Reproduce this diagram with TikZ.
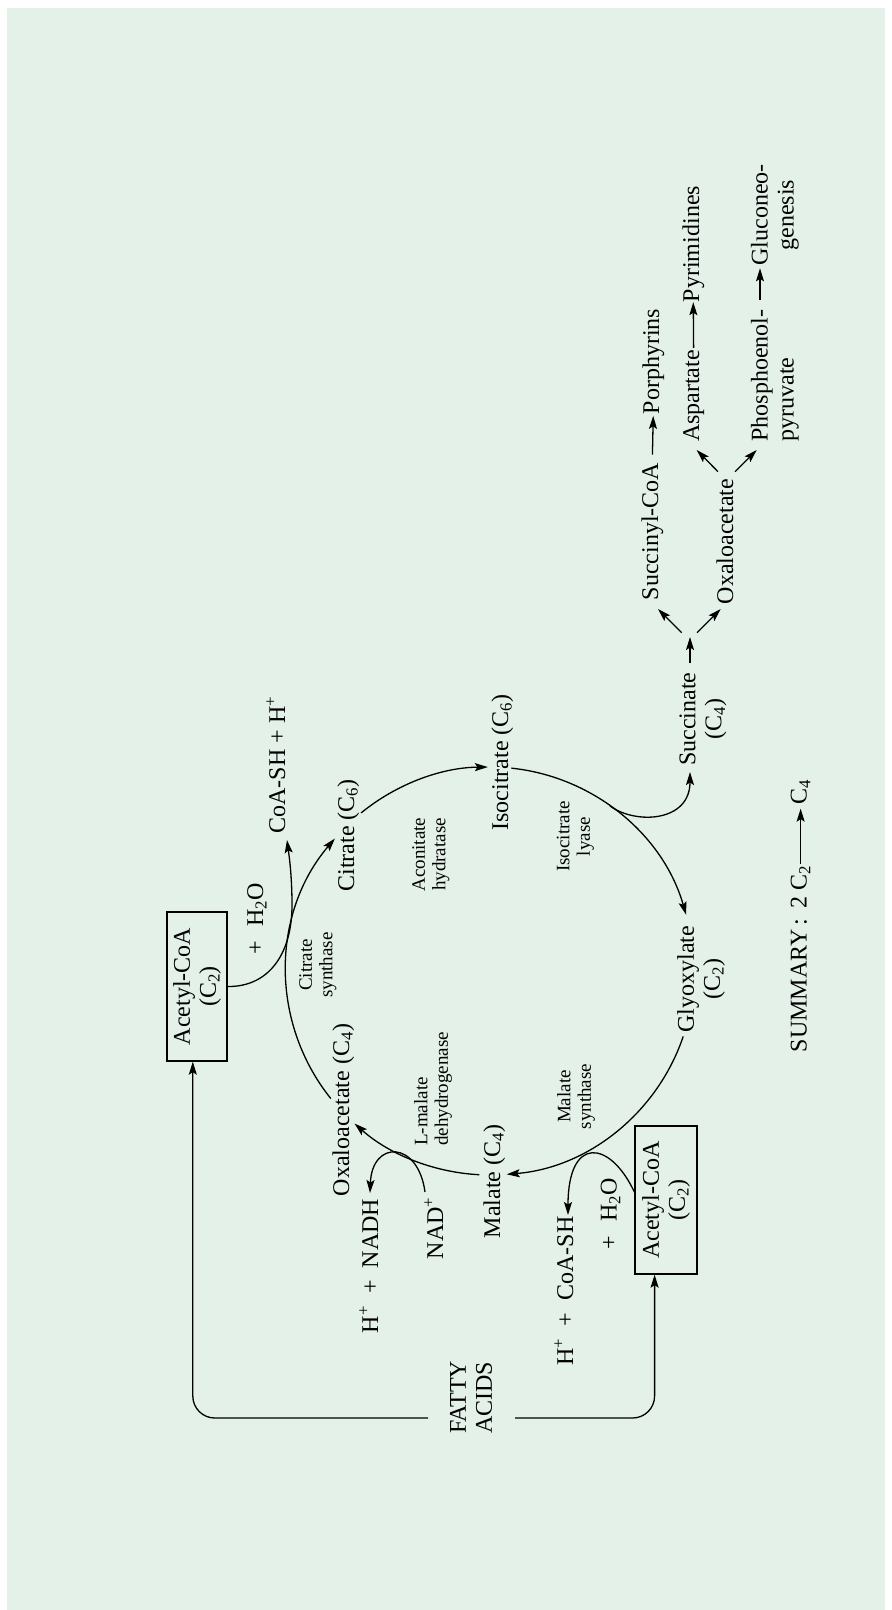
\documentclass[tikz,border=0pt]{standalone}
\usepackage{fontspec}
\setmainfont{Liberation Serif}
\usetikzlibrary{arrows.meta,calc}
\definecolor{bg}{RGB}{228,241,233}
\begin{document}
\begin{tikzpicture}[x=1pt,y=1pt,
  every node/.style={inner sep=0pt},
  lab/.style={rotate=90, font=\fontsize{24}{26}\selectfont},
  enz/.style={rotate=90, font=\fontsize{19}{20.5}\selectfont, align=center},
  arr/.style={line width=1.3pt, -{Stealth[length=13pt,width=8pt,inset=2.5pt]}},
  boxn/.style={lab, draw, line width=1.3pt, align=center, minimum width=149pt, minimum height=60pt}
]
\useasboundingbox (0,0) rectangle (892,-1610);
\fill[white] (0,0) rectangle (892,-1610);
\fill[bg] (7,-8) rectangle (885,-1610);

% main cycle labels
\node[lab, anchor=base] (cosh) at (285,-765) {CoA-SH + H\textsuperscript{+}};
\node[lab, anchor=base] (cit) at (354,-835.5) {Citrate (C\textsubscript{6})};
\node[lab, anchor=base] (iso) at (508,-762.5) {Isocitrate (C\textsubscript{6})};
\node[lab, anchor=base] (mal) at (500,-1181.5) {Malate (C\textsubscript{4})};
\node[lab, anchor=base] (oaa) at (349,-1110) {Oxaloacetate (C\textsubscript{4})};
\node[lab, align=center] (gly) at (701,-979) {Glyoxylate\\(C\textsubscript{2})};
\node[lab, align=center] (suc) at (703,-719) {Succinate\\(C\textsubscript{4})};
\node[boxn] (ac1) at (197,-986.5) {Acetyl-CoA\\(C\textsubscript{2})};
\node[boxn, minimum height=62pt, minimum width=148pt] (ac2) at (666,-1200) {Acetyl-CoA\\(C\textsubscript{2})};
\node[lab, anchor=base] (h2oa) at (263,-919) {+\hspace{0.6em}H\textsubscript{2}O};
\node[lab, anchor=base] (h2ob) at (616.7,-1214) {+\hspace{0.6em}H\textsubscript{2}O};
\node[lab, anchor=base] (coash) at (573,-1291) {H\textsuperscript{+}\hspace{0.5em}+\hspace{0.5em}CoA-SH};
\node[lab, anchor=base] (nad) at (443,-1228) {NAD\textsuperscript{+}};
\node[lab, anchor=base] (nadh) at (378,-1266) {H\textsuperscript{+}\hspace{0.5em}+\hspace{0.5em}NADH};
\node[lab, align=left, anchor=west] (fa) at (471,-1434) {FATTY\\ACIDS};

% right-hand products
\node[lab, anchor=base] (scoa) at (658,-531.5) {Succinyl-CoA};
\node[lab, anchor=base] (oaab) at (733,-541.5) {Oxaloacetate};
\node[lab, anchor=base] (asp) at (699,-396) {Aspartate};
\node[lab, anchor=base] (pyr) at (699,-244) {Pyrimidines};
\node[lab, anchor=base] (por) at (659,-361.5) {Porphyrins};
\node[lab, align=left, anchor=west] (pep) at (775,-441.7) {Phosphoenol-\\pyruvate};
\node[lab, align=center] (glu) at (775,-215) {Gluconeo-\\genesis};
\node[lab, anchor=base] (sum) at (806.7,-959) {SUMMARY\,:\, 2 C\textsubscript{2}};
\node[lab, anchor=base] (cfour) at (806.7,-792.5) {C\textsubscript{4}};

% enzymes
\node[enz] (e1) at (318,-965) {Citrate\\synthase};
\node[enz] (e2) at (431,-854.5) {Aconitate\\hydratase};
\node[enz] (e3) at (575.5,-836.5) {Isocitrate\\lyase};
\node[enz] (e4) at (576,-1096.5) {Malate\\synthase};
\node[enz, align=left, anchor=west] (e5) at (433,-1146) {L-malate\\dehydrogenase};

% cycle
\coordinate (ctr) at (490,-971);
\draw[arr] ([shift={(218.7:204)}]ctr) arc[start angle=218.7, end angle=139.5, radius=204];
\draw[arr] ([shift={(129.2:204)}]ctr) arc[start angle=129.2, end angle=90.6, radius=204];
\draw[arr] ([shift={(84:204)}]ctr) arc[start angle=84, end angle=16, radius=204];
\draw[arr] ([shift={(-18.7:204)}]ctr) arc[start angle=-18.7, end angle=-85.3, radius=204];
\draw[arr] ([shift={(267:204)}]ctr) arc[start angle=267, end angle=228.4, radius=204];

% branch to succinate
\coordinate (sucin) at (690,-772);
\draw[arr] ([shift={(54:204)}]ctr) .. controls +(-36:32) and +(0,-50) .. (sucin);

% acetyl-CoA (top) to CoA-SH
\coordinate (coashin) at (287,-840);
\draw[arr] (ac1.south) .. controls (268,-987) and (292,-955) .. (292,-905) .. controls (292,-875) and (289,-855) .. (coashin);

% NAD arch
\coordinate (nadout) at (425,-1192);
\coordinate (nadhin) at (370,-1193);
\draw[arr] (nadout) .. controls (418,-1140) and (372,-1140) .. (nadhin);

% malate synthase arch
\coordinate (coashb) at (568,-1215);
\draw[arr] ([yshift=8pt]ac2.north) .. controls (610,-1140) and (568,-1135) .. (coashb);

% fatty acids
\coordinate (faL) at (428,-1418);
\coordinate (faR) at (515,-1418);
\draw[arr, rounded corners=22pt] (faL) -| ([xshift=-4.2pt]ac1.west);
\draw[arr, rounded corners=22pt] (faR) -| ([xshift=-11.4pt]ac2.west);

% products
\coordinate (sA) at (690,-663);  \coordinate (sB) at (690,-637);
\coordinate (sC) at (681.7,-632.7); \coordinate (sD) at (658,-609);
\coordinate (sE) at (697,-632.7); \coordinate (sF) at (720.7,-609);
\draw[arr] (sA) -- (sB);
\draw[arr] (sC) -- (sD);
\draw[arr] (sE) -- (sF);
\draw[arr, shorten <=8pt, shorten >=1.5pt] (scoa.east) -- (por.west);
\coordinate (oA) at (718,-471.7); \coordinate (oB) at (696.7,-450);
\coordinate (oC) at (735,-471.7); \coordinate (oD) at (756.7,-450);
\draw[arr] (oA) -- (oB);
\draw[arr] (oC) -- (oD);
\draw[arr, shorten <=2pt] (asp.east) -- (pyr.west);
\coordinate (pA) at (760,-300); \coordinate (pB) at (760,-268.3);
\draw[arr] (pA) -- (pB);
\draw[arr, shorten <=1.5pt, shorten >=3.5pt] (sum.east) -- (cfour.west);
\end{tikzpicture}
\end{document}
